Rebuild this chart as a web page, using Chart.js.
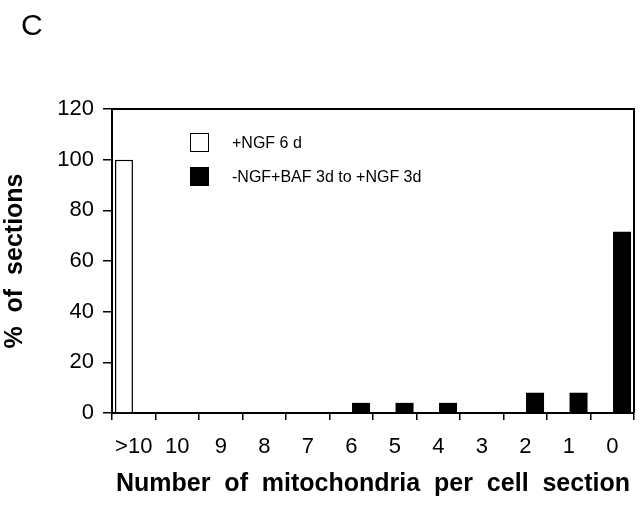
<!DOCTYPE html>
<html>
<head>
<meta charset="utf-8">
<script src="https://cdn.jsdelivr.net/npm/chart.js@4/dist/chart.umd.min.js"></script>
<style>
	body { margin: 0; background: #fff; }
	#wrap { position: relative; width: 640px; height: 506px; }
	#panel { position: absolute; left: 21px; top: 8px; font: 30px "Liberation Sans", Arial, sans-serif; }
	.leg { position: absolute; left: 190px; font: 16px "Liberation Sans", Arial, sans-serif; }
	.leg span.box { position: absolute; left: 0; top: 0; width: 17px; height: 17px; border: 1.5px solid #000; }
	.leg span.txt { position: absolute; left: 42px; top: 0; white-space: nowrap; line-height: 20px; }
</style>
</head>
<body>
<div id="wrap">
	<canvas id="myChart" width="640" height="506"></canvas>
	<div id="panel">C</div>
	<div class="leg" style="top:133px"><span class="box" style="background:#fff"></span><span class="txt">+NGF 6 d</span></div>
	<div class="leg" style="top:167px"><span class="box" style="background:#000"></span><span class="txt">-NGF+BAF 3d to +NGF 3d</span></div>
</div>
<script>
const categories = ['>10', '10', '9', '8', '7', '6', '5', '4', '3', '2', '1', '0']
const ngf6d = [100, 0, 0, 0, 0, 0, 0, 0, 0, 0, 0, 0]
const bafToNgf = [0, 0, 0, 0, 0, 4, 4, 4, 0, 8, 8, 71.5]
const seriesLabels = ['+NGF 6 d', '-NGF+BAF 3d to +NGF 3d']
// the original sets words a bit apart
const xTitle = 'Number  of  mitochondria  per  cell  section'
const yTitle = '%  of  sections'

const frame = {
	id: 'frame',
	afterDraw(chart) {
		const a = chart.chartArea
		const ctx = chart.ctx
		ctx.save()
		ctx.strokeStyle = '#000'
		ctx.lineWidth = 2
		ctx.beginPath()
		ctx.moveTo(a.left, a.top)
		ctx.lineTo(a.right, a.top)
		ctx.lineTo(a.right, a.bottom)
		ctx.stroke()
		ctx.restore()
	}
}

let cfg = {
	type: 'bar',
	data: {
		labels: categories,
		datasets: [{
			label: seriesLabels[0],
			data: ngf6d,
			backgroundColor: '#fff',
			borderColor: '#000',
			borderWidth: 1.5,
			barPercentage: 0.92,
			categoryPercentage: 0.9
		},
		{
			label: seriesLabels[1],
			data: bafToNgf,
			backgroundColor: '#000',
			borderColor: '#000',
			borderWidth: 0,
			barPercentage: 0.92,
			categoryPercentage: 0.9
		}]
	},
	options: {
		responsive: false,
		animation: false,
		layout: { padding: { top: 109, right: 6, left: 0, bottom: 7 } },
		plugins: {
			legend: { display: false },
			tooltip: { enabled: false }
		},
		scales: {
			x: {
				grid: { drawOnChartArea: false, offset: true, tickLength: 7, color: '#000', lineWidth: 1.5 },
				border: { color: '#000', width: 2 },
				ticks: { color: '#000', padding: 14, maxRotation: 0, autoSkip: false, font: { family: 'Liberation Sans', size: 22 } },
				title: { display: true, text: xTitle, color: '#000', padding: 0, font: { family: 'Liberation Sans', size: 25, weight: 'bold' } },
				afterFit: (s) => { s.height = 506 - 413 - 7 }
			},
			y: {
				min: 0,
				max: 120,
				grid: { drawOnChartArea: false, tickLength: 9, color: '#000', lineWidth: 1.5 },
				border: { color: '#000', width: 2 },
				ticks: {
					stepSize: 10,
					color: '#000',
					padding: 9,
					font: { family: 'Liberation Sans', size: 22 },
					callback: (v) => v % 20 === 0 ? v : ''
				},
				title: { display: true, text: yTitle, color: '#000', padding: 0, font: { family: 'Liberation Sans', size: 25, weight: 'bold' } },
				afterFit: (s) => { s.width = 112 }
			}
		}
	},
	plugins: [frame]
}
new Chart('myChart', cfg)
</script>
</body>
</html>
